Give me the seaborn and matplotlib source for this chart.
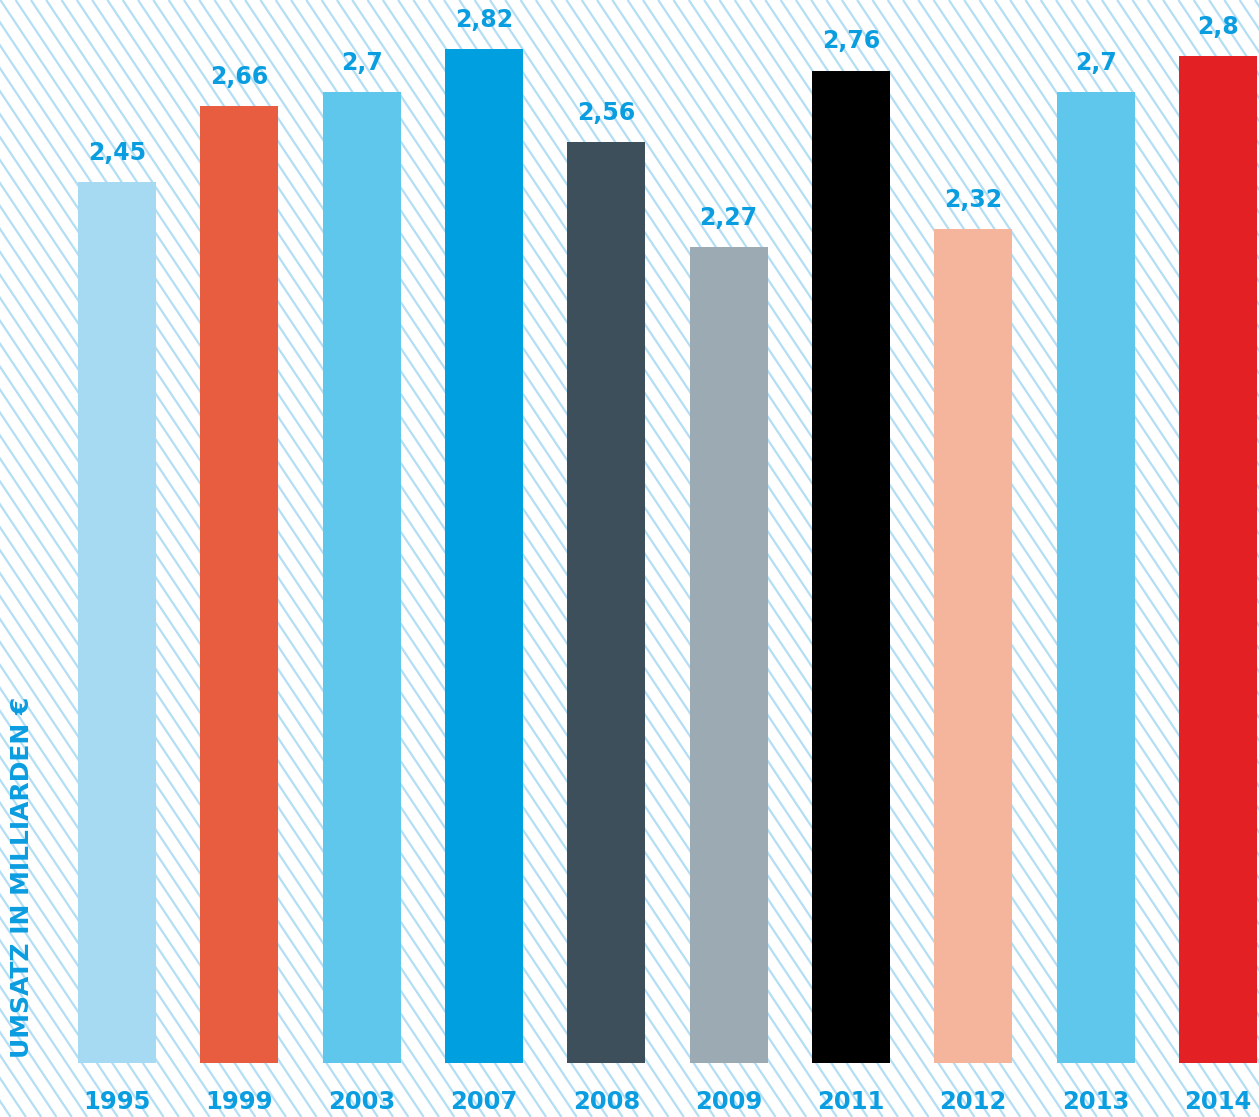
import numpy as np
import pandas as pd
import matplotlib
matplotlib.use("Agg")
import matplotlib.pyplot as plt
from matplotlib.collections import LineCollection
import seaborn as sns

years = ["1995", "1999", "2003", "2007", "2008", "2009", "2011", "2012", "2013", "2014"]
values = [2.45, 2.66, 2.70, 2.82, 2.56, 2.27, 2.76, 2.32, 2.70, 2.80]
value_labels = ["2,45", "2,66", "2,7", "2,82", "2,56", "2,27", "2,76", "2,32", "2,7", "2,8"]
colors = ["#a6daf3", "#e85d40", "#5fc6ec", "#009fe0", "#3d4f5a",
          "#9baab3", "#000000", "#f5b59c", "#5fc6ec", "#e32023"]
ylabel = "UMSATZ IN MILLIARDEN €"

BLUE = "#0a9de0"
FONT = ["DejaVu Sans"]

sns.set_theme(style="white")
plt.rcParams["font.family"] = FONT

W, H = 1259, 1117
fig = plt.figure(figsize=(W / 100, H / 100), dpi=100)

# background hatch
bg = fig.add_axes([0, 0, 1, 1], zorder=0)
bg.set_xlim(0, W)
bg.set_ylim(H, 0)
bg.axis("off")
slope = 1.5
step = 15.3
segs = []
x0 = -H / slope - 20
while x0 < W + 20:
    segs.append([(x0, 0), (x0 + H / slope, H)])
    x0 += step
bg.add_collection(LineCollection(segs, colors="#b3def4", linewidths=1.6))

# main axes
base_px = 1063
ax = fig.add_axes([0, 1 - base_px / H, 1, base_px / H], zorder=1)
ax.patch.set_alpha(0)
df = pd.DataFrame({"year": years, "value": values})
sns.barplot(data=df, x="year", y="value", hue="year", palette=colors,
            legend=False, width=0.637, ax=ax, saturation=1, linewidth=0,
            edgecolor="none")
px_per_unit = 359.6
ax.set_ylim(0, base_px / px_per_unit)
step_px = 122.33
ax.set_xlim(-117 / step_px, (W - 117) / step_px)
ax.axis("off")

for i, (v, lab) in enumerate(zip(values, value_labels)):
    ax.annotate(lab, (i, v), xytext=(0, 21), textcoords="offset points",
                ha="center", va="center", color=BLUE, fontsize=17,
                fontweight="bold")
    ax.annotate(years[i], (i, 0), xytext=(0, -28), textcoords="offset points",
                ha="center", va="center", color=BLUE, fontsize=17.5,
                fontweight="bold")

fig.text(22 / W, 1 - 877 / H, ylabel, rotation=90, ha="center", va="center",
         color=BLUE, fontsize=18, fontweight="bold")

fig.savefig("out.png", dpi=100)
